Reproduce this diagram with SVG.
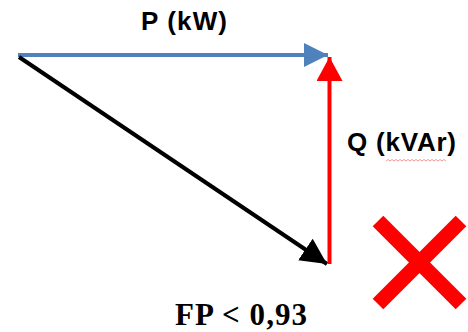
<svg xmlns="http://www.w3.org/2000/svg" width="468" height="332" viewBox="0 0 468 332">
  <style>
    .lbl { font-family: "Liberation Sans", Arial, sans-serif; font-weight: bold; font-size: 26px; fill: #000; }
    .fp { font-family: "Liberation Serif", "Times New Roman", serif; font-weight: bold; font-size: 31px; fill: #000; }
    .vec { fill: none; stroke-width: 4; }
  </style>
  <defs>
    <marker id="hBlue" markerUnits="userSpaceOnUse" markerWidth="26" markerHeight="24" refX="24" refY="12" orient="auto">
      <path d="M0,0 L24,12 L0,24 Z" fill="#4F81BD"/>
    </marker>
    <marker id="hRed" markerUnits="userSpaceOnUse" markerWidth="26" markerHeight="26" refX="24" refY="13" orient="auto">
      <path d="M0,0 L24,13 L0,26 Z" fill="#FF0000"/>
    </marker>
    <marker id="hBlack" markerUnits="userSpaceOnUse" markerWidth="28" markerHeight="26" refX="26" refY="13" orient="auto">
      <path d="M0,0 L26,13 L0,26 Z" fill="#000"/>
    </marker>
  </defs>
  <rect width="468" height="332" fill="#fff"/>
  <g id="connectors">
    <line class="vec" x1="18" y1="55" x2="328" y2="55" stroke="#4F81BD" marker-end="url(#hBlue)"/>
    <line class="vec" x1="19" y1="57" x2="327" y2="264" stroke="#000" marker-end="url(#hBlack)"/>
    <line class="vec" x1="329.5" y1="264" x2="329.5" y2="57" stroke="#FF0000" marker-end="url(#hRed)"/>
  </g>
  <g id="label-p">
    <text class="lbl" x="184" y="30" text-anchor="middle" textLength="86">P (kW)</text>
  </g>
  <g id="label-q">
    <text class="lbl" x="347" y="151" textLength="109">Q (kVAr)</text>
    <path d="M386,161 l2,-1.5 l2,1.5 l2,-1.5 l2,1.5 l2,-1.5 l2,1.5 l2,-1.5 l2,1.5 l2,-1.5 l2,1.5 l2,-1.5 l2,1.5 l2,-1.5 l2,1.5 l2,-1.5 l2,1.5 l2,-1.5 l2,1.5 l2,-1.5 l2,1.5 l2,-1.5 l2,1.5 l2,-1.5 l2,1.5 l2,-1.5 l2,1.5 l2,-1.5 l2,1.5 l2,-1.5 l2,1.5" fill="none" stroke="#F08080" stroke-width="0.8"/>
  </g>
  <g id="label-fp">
    <text class="fp" x="175" y="325" textLength="132">FP &lt; 0,93</text>
  </g>
  <g id="cross">
    <line x1="378" y1="221" x2="461" y2="304" stroke="#FF0000" stroke-width="15"/>
    <line x1="461" y1="221" x2="378" y2="304" stroke="#FF0000" stroke-width="15"/>
  </g>
</svg>
